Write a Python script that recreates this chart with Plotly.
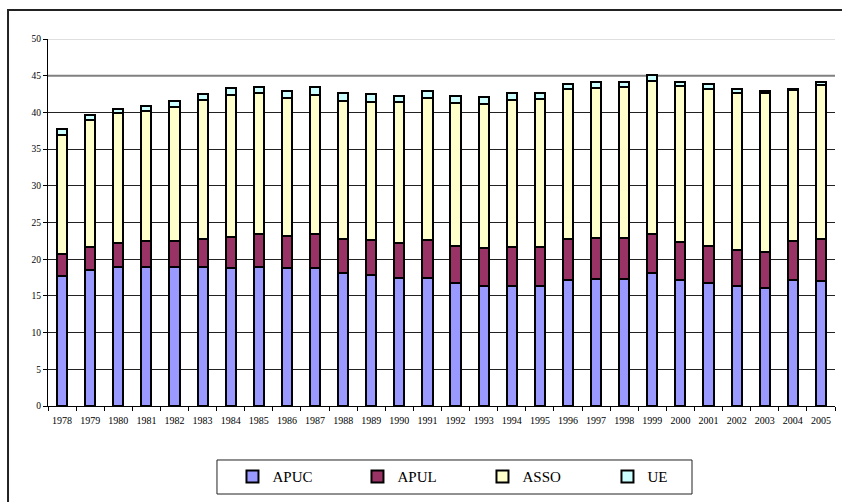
import plotly.graph_objects as go

years = [str(y) for y in range(1978, 2006)]
apuc = [17.7, 18.5, 18.9, 19.0, 18.9, 18.9, 18.8, 19.0, 18.8, 18.8, 18.1, 17.8, 17.4, 17.4,
        16.7, 16.3, 16.3, 16.3, 17.2, 17.3, 17.3, 18.1, 17.1, 16.7, 16.3, 16.1, 17.1, 17.0]
apul = [3.0, 3.1, 3.3, 3.5, 3.6, 3.8, 4.2, 4.4, 4.3, 4.7, 4.7, 4.8, 4.8, 5.2,
        5.1, 5.2, 5.3, 5.3, 5.6, 5.6, 5.6, 5.4, 5.3, 5.1, 4.9, 4.9, 5.4, 5.7]
asso = [16.2, 17.4, 17.7, 17.7, 18.3, 19.0, 19.4, 19.2, 18.9, 18.9, 18.8, 18.8, 19.2, 19.3,
        19.5, 19.7, 20.1, 20.2, 20.4, 20.4, 20.5, 20.8, 21.2, 21.4, 21.5, 21.6, 20.5, 21.1]
ue = [0.8, 0.6, 0.6, 0.7, 0.8, 0.8, 0.9, 0.8, 0.9, 1.1, 1.1, 1.1, 0.9, 1.0,
      1.0, 0.9, 0.9, 0.9, 0.7, 0.8, 0.7, 0.8, 0.5, 0.7, 0.5, 0.3, 0.2, 0.3]
yticks = [0, 5, 10, 15, 20, 25, 30, 35, 40, 45, 50]
grid_black = [5, 10, 15, 20, 25, 30, 35, 40]

series = [("APUC", apuc, "#9999FF"), ("APUL", apul, "#993366"),
          ("ASSO", asso, "#FFFFCC"), ("UE", ue, "#CCFFFF")]

fig = go.Figure()
for name, vals, col in series:
    fig.add_trace(go.Bar(x=years, y=vals, name=name,
                         marker=dict(color=col, line=dict(color="black", width=2))))

font = "Liberation Serif, Times New Roman, serif"
fig.update_layout(
    width=842, height=502,
    margin=dict(l=48, r=7, t=39, b=96, autoexpand=False),
    barmode="stack", bargap=0.64,
    paper_bgcolor="white", plot_bgcolor="white",
    font=dict(family=font, color="black"),
    showlegend=True,
    legend=dict(orientation="h", x=0.2344, xanchor="left", y=-0.193, yanchor="middle",
                font=dict(size=15, family=font), entrywidth=80, entrywidthmode="pixels",
                itemwidth=30, bgcolor="rgba(0,0,0,0)", traceorder="normal"),
    xaxis=dict(type="category", showline=True, linecolor="black", linewidth=1,
               ticks="outside", tickson="boundaries", ticklen=4, tickcolor="black",
               tickangle=0, automargin=False, ticklabelstandoff=5,
               tickfont=dict(size=10, family=font), showgrid=False),
    yaxis=dict(range=[0, 50], tickvals=yticks, automargin=False,
               showline=True, linecolor="black", linewidth=1,
               ticks="outside", ticklen=4, tickcolor="black",
               tickfont=dict(size=9.5, family=font),
               showgrid=False, zeroline=False,
               minor=dict(tickvals=grid_black, showgrid=True, gridcolor="#222222",
                          gridwidth=1, ticks="")),
    shapes=[
        dict(type="line", xref="paper", yref="y", x0=0, x1=1, y0=45, y1=45,
             line=dict(color="#808080", width=2), layer="below"),
        dict(type="line", xref="paper", yref="y", x0=0, x1=1, y0=50, y1=50,
             line=dict(color="#C0C0C0", width=1), layer="below"),
        dict(type="rect", xref="paper", yref="paper", x0=0.2147, x1=0.8183, y0=-0.2398, y1=-0.1471,
             line=dict(color="#222222", width=1), fillcolor="rgba(0,0,0,0)"),
        dict(type="rect", xref="paper", yref="paper", x0=-0.0508, x1=1.2, y0=-0.6, y1=1.079,
             line=dict(color="#222222", width=2), fillcolor="rgba(0,0,0,0)"),
    ],
)

fig.write_html("out.html")
